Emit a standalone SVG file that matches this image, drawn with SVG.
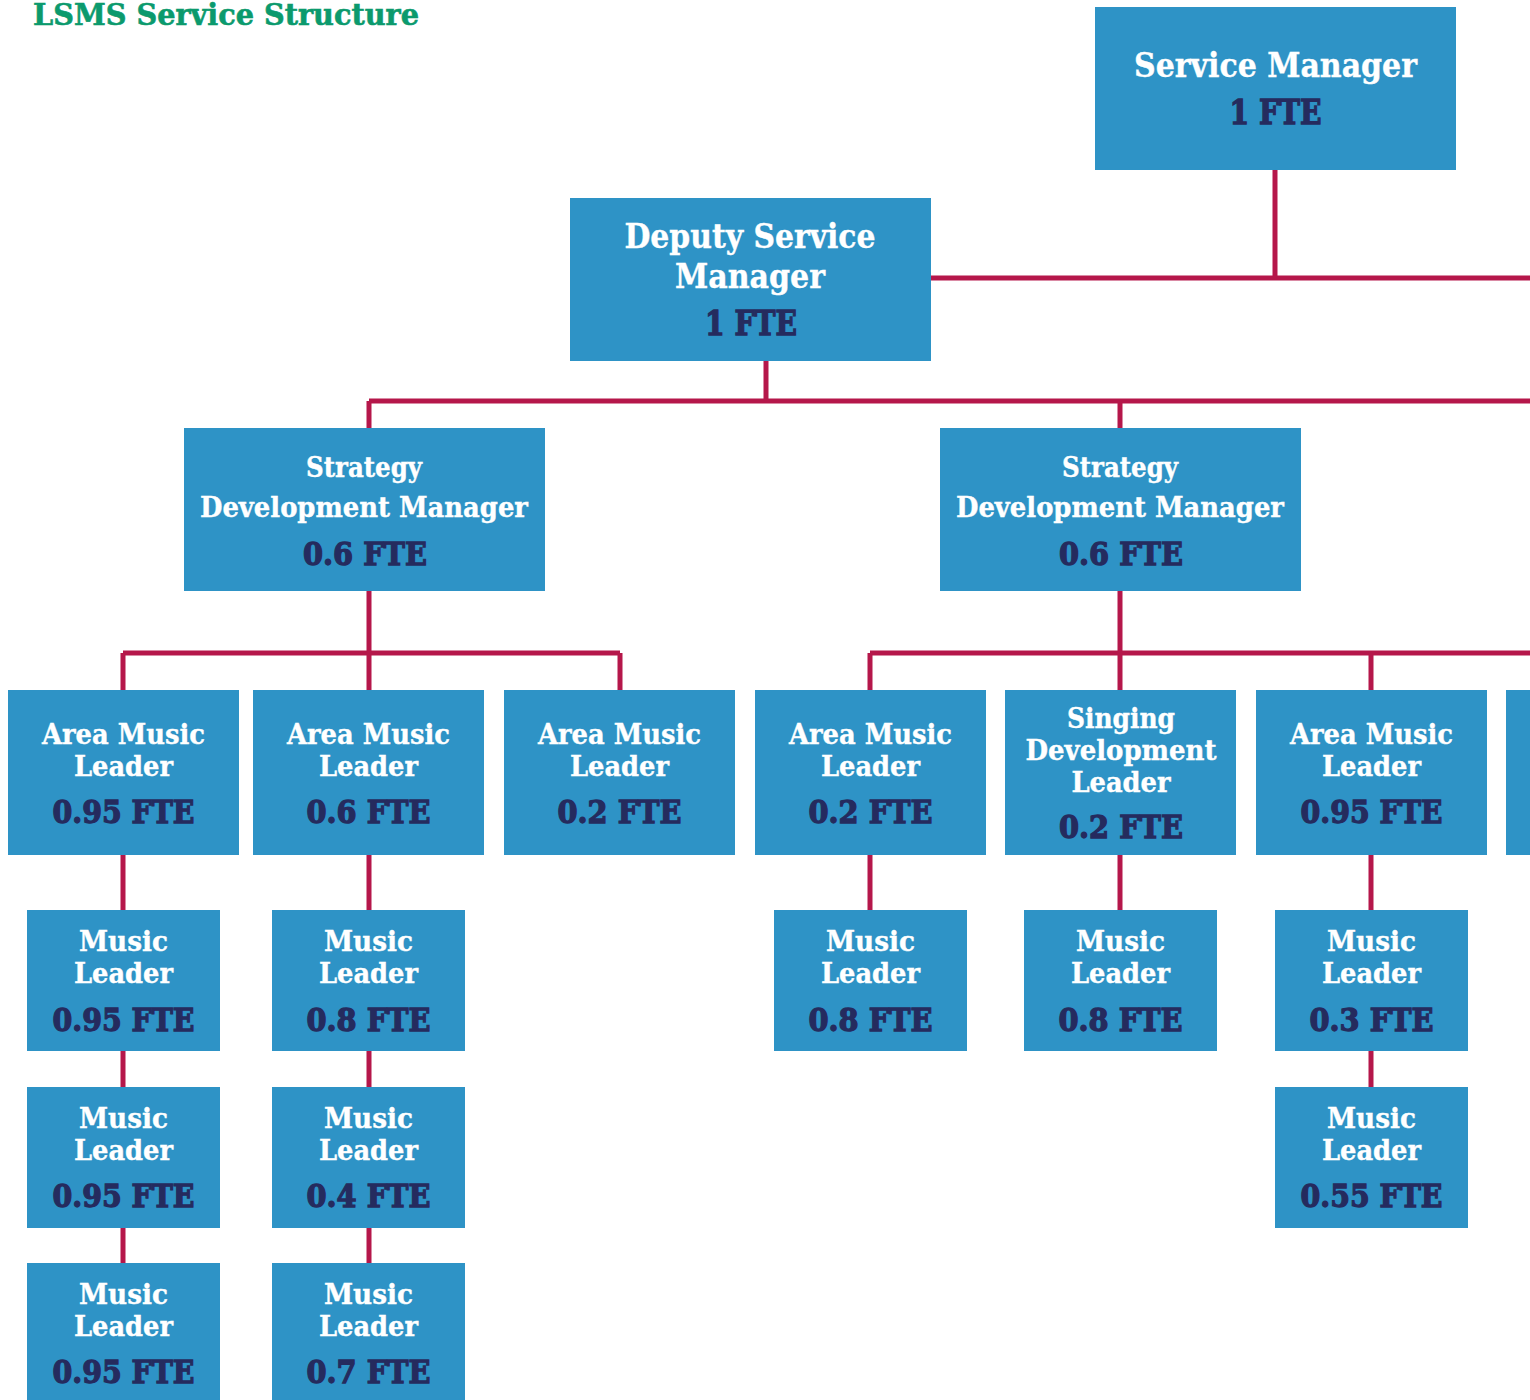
<svg xmlns="http://www.w3.org/2000/svg" width="1530" height="1400" viewBox="0 0 1530 1400">
<style>
.box{fill:#2E93C6}
.t{font-family:"DejaVu Serif","Liberation Serif",serif;font-weight:bold;fill:#ffffff;text-anchor:middle;stroke:#ffffff;stroke-width:0.4}
.f{font-family:"DejaVu Serif","Liberation Serif",serif;font-weight:bold;fill:#252B5E;text-anchor:middle;stroke:#252B5E;stroke-width:1.3}
.title{font-family:"DejaVu Serif","Liberation Serif",serif;font-weight:bold;font-size:29px;fill:#0B9A6D;stroke:#0B9A6D;stroke-width:0.6}
.s28{font-size:27.5px}
.s31{font-size:31px}
.s33{font-size:33px}
.ln{stroke:#B5174A;stroke-width:5;fill:none}
</style>
<rect width="1530" height="1400" fill="#ffffff"/>
<text class="title" x="33" y="25" textLength="386" lengthAdjust="spacingAndGlyphs">LSMS Service Structure</text>
<g id="connectors">
<path class="ln" d="M1275 170V278M931 278H1530"/>
<path class="ln" d="M766 361V401M369 401H1530M369 401V428M1120 401V428"/>
<path class="ln" d="M369 591V653M123 653H620M123 653V690M369 653V690M620 653V690"/>
<path class="ln" d="M1120 591V653M870 653H1530M870 653V690M1120 653V690M1371 653V690"/>
<path class="ln" d="M123 855V1263M369 855V1263M870 855V910M1120 855V910M1371 855V1087"/>
</g>
<g id="service-manager">
<rect class="box" x="1095" y="7" width="361" height="163"/>
<text class="t s33" x="1275.5" y="77" textLength="283" lengthAdjust="spacingAndGlyphs">Service Manager</text>
<text class="f s33" x="1275.5" y="124" textLength="92" lengthAdjust="spacingAndGlyphs">1 FTE</text>
</g>
<g id="deputy">
<rect class="box" x="570" y="198" width="361" height="163"/>
<text class="t s33" x="750" y="248" textLength="251" lengthAdjust="spacingAndGlyphs">Deputy Service</text>
<text class="t s33" x="750" y="288" textLength="150" lengthAdjust="spacingAndGlyphs">Manager</text>
<text class="f s33" x="751" y="335" textLength="92" lengthAdjust="spacingAndGlyphs">1 FTE</text>
</g>
<g id="sdm1">
<rect class="box" x="184" y="428" width="361" height="163"/>
<text class="t s28" x="364" y="477" textLength="116" lengthAdjust="spacingAndGlyphs">Strategy</text>
<text class="t s28" x="364" y="517" textLength="328" lengthAdjust="spacingAndGlyphs">Development Manager</text>
<text class="f s31" x="365" y="565" textLength="124" lengthAdjust="spacingAndGlyphs">0.6 FTE</text>
</g>
<g id="sdm2">
<rect class="box" x="940" y="428" width="361" height="163"/>
<text class="t s28" x="1120" y="477" textLength="116" lengthAdjust="spacingAndGlyphs">Strategy</text>
<text class="t s28" x="1120" y="517" textLength="328" lengthAdjust="spacingAndGlyphs">Development Manager</text>
<text class="f s31" x="1121" y="565" textLength="124" lengthAdjust="spacingAndGlyphs">0.6 FTE</text>
</g>
<g id="aml1">
<rect class="box" x="8" y="690" width="231" height="165"/>
<text class="t s28" x="123.5" y="744" textLength="163" lengthAdjust="spacingAndGlyphs">Area Music</text>
<text class="t s28" x="123.5" y="776" textLength="99" lengthAdjust="spacingAndGlyphs">Leader</text>
<text class="f s31" x="123.5" y="823" textLength="142" lengthAdjust="spacingAndGlyphs">0.95 FTE</text>
</g>
<g id="aml2">
<rect class="box" x="253" y="690" width="231" height="165"/>
<text class="t s28" x="368.5" y="744" textLength="163" lengthAdjust="spacingAndGlyphs">Area Music</text>
<text class="t s28" x="368.5" y="776" textLength="99" lengthAdjust="spacingAndGlyphs">Leader</text>
<text class="f s31" x="368.5" y="823" textLength="124" lengthAdjust="spacingAndGlyphs">0.6 FTE</text>
</g>
<g id="aml3">
<rect class="box" x="504" y="690" width="231" height="165"/>
<text class="t s28" x="619.5" y="744" textLength="163" lengthAdjust="spacingAndGlyphs">Area Music</text>
<text class="t s28" x="619.5" y="776" textLength="99" lengthAdjust="spacingAndGlyphs">Leader</text>
<text class="f s31" x="619.5" y="823" textLength="124" lengthAdjust="spacingAndGlyphs">0.2 FTE</text>
</g>
<g id="aml4">
<rect class="box" x="755" y="690" width="231" height="165"/>
<text class="t s28" x="870.5" y="744" textLength="163" lengthAdjust="spacingAndGlyphs">Area Music</text>
<text class="t s28" x="870.5" y="776" textLength="99" lengthAdjust="spacingAndGlyphs">Leader</text>
<text class="f s31" x="870.5" y="823" textLength="124" lengthAdjust="spacingAndGlyphs">0.2 FTE</text>
</g>
<g id="sdl">
<rect class="box" x="1005" y="690" width="231" height="165"/>
<text class="t s28" x="1121" y="728" textLength="108" lengthAdjust="spacingAndGlyphs">Singing</text>
<text class="t s28" x="1121" y="760" textLength="191" lengthAdjust="spacingAndGlyphs">Development</text>
<text class="t s28" x="1121" y="792" textLength="99" lengthAdjust="spacingAndGlyphs">Leader</text>
<text class="f s31" x="1121" y="838" textLength="124" lengthAdjust="spacingAndGlyphs">0.2 FTE</text>
</g>
<g id="aml5">
<rect class="box" x="1256" y="690" width="231" height="165"/>
<text class="t s28" x="1371.5" y="744" textLength="163" lengthAdjust="spacingAndGlyphs">Area Music</text>
<text class="t s28" x="1371.5" y="776" textLength="99" lengthAdjust="spacingAndGlyphs">Leader</text>
<text class="f s31" x="1371.5" y="823" textLength="142" lengthAdjust="spacingAndGlyphs">0.95 FTE</text>
</g>
<g id="partial">
<rect class="box" x="1506" y="690" width="40" height="165"/>
</g>
<g id="ml1a">
<rect class="box" x="27" y="910" width="193" height="141"/>
<text class="t s28" x="123.5" y="951" textLength="89" lengthAdjust="spacingAndGlyphs">Music</text>
<text class="t s28" x="123.5" y="983" textLength="99" lengthAdjust="spacingAndGlyphs">Leader</text>
<text class="f s31" x="123.5" y="1031" textLength="142" lengthAdjust="spacingAndGlyphs">0.95 FTE</text>
</g>
<g id="ml1b">
<rect class="box" x="27" y="1087" width="193" height="141"/>
<text class="t s28" x="123.5" y="1128" textLength="89" lengthAdjust="spacingAndGlyphs">Music</text>
<text class="t s28" x="123.5" y="1160" textLength="99" lengthAdjust="spacingAndGlyphs">Leader</text>
<text class="f s31" x="123.5" y="1207" textLength="142" lengthAdjust="spacingAndGlyphs">0.95 FTE</text>
</g>
<g id="ml1c">
<rect class="box" x="27" y="1263" width="193" height="141"/>
<text class="t s28" x="123.5" y="1304" textLength="89" lengthAdjust="spacingAndGlyphs">Music</text>
<text class="t s28" x="123.5" y="1336" textLength="99" lengthAdjust="spacingAndGlyphs">Leader</text>
<text class="f s31" x="123.5" y="1383" textLength="142" lengthAdjust="spacingAndGlyphs">0.95 FTE</text>
</g>
<g id="ml2a">
<rect class="box" x="272" y="910" width="193" height="141"/>
<text class="t s28" x="368.5" y="951" textLength="89" lengthAdjust="spacingAndGlyphs">Music</text>
<text class="t s28" x="368.5" y="983" textLength="99" lengthAdjust="spacingAndGlyphs">Leader</text>
<text class="f s31" x="368.5" y="1031" textLength="124" lengthAdjust="spacingAndGlyphs">0.8 FTE</text>
</g>
<g id="ml2b">
<rect class="box" x="272" y="1087" width="193" height="141"/>
<text class="t s28" x="368.5" y="1128" textLength="89" lengthAdjust="spacingAndGlyphs">Music</text>
<text class="t s28" x="368.5" y="1160" textLength="99" lengthAdjust="spacingAndGlyphs">Leader</text>
<text class="f s31" x="368.5" y="1207" textLength="124" lengthAdjust="spacingAndGlyphs">0.4 FTE</text>
</g>
<g id="ml2c">
<rect class="box" x="272" y="1263" width="193" height="141"/>
<text class="t s28" x="368.5" y="1304" textLength="89" lengthAdjust="spacingAndGlyphs">Music</text>
<text class="t s28" x="368.5" y="1336" textLength="99" lengthAdjust="spacingAndGlyphs">Leader</text>
<text class="f s31" x="368.5" y="1383" textLength="124" lengthAdjust="spacingAndGlyphs">0.7 FTE</text>
</g>
<g id="ml4a">
<rect class="box" x="774" y="910" width="193" height="141"/>
<text class="t s28" x="870.5" y="951" textLength="89" lengthAdjust="spacingAndGlyphs">Music</text>
<text class="t s28" x="870.5" y="983" textLength="99" lengthAdjust="spacingAndGlyphs">Leader</text>
<text class="f s31" x="870.5" y="1031" textLength="124" lengthAdjust="spacingAndGlyphs">0.8 FTE</text>
</g>
<g id="ml5a">
<rect class="box" x="1024" y="910" width="193" height="141"/>
<text class="t s28" x="1120.5" y="951" textLength="89" lengthAdjust="spacingAndGlyphs">Music</text>
<text class="t s28" x="1120.5" y="983" textLength="99" lengthAdjust="spacingAndGlyphs">Leader</text>
<text class="f s31" x="1120.5" y="1031" textLength="124" lengthAdjust="spacingAndGlyphs">0.8 FTE</text>
</g>
<g id="ml6a">
<rect class="box" x="1275" y="910" width="193" height="141"/>
<text class="t s28" x="1371.5" y="951" textLength="89" lengthAdjust="spacingAndGlyphs">Music</text>
<text class="t s28" x="1371.5" y="983" textLength="99" lengthAdjust="spacingAndGlyphs">Leader</text>
<text class="f s31" x="1371.5" y="1031" textLength="124" lengthAdjust="spacingAndGlyphs">0.3 FTE</text>
</g>
<g id="ml6b">
<rect class="box" x="1275" y="1087" width="193" height="141"/>
<text class="t s28" x="1371.5" y="1128" textLength="89" lengthAdjust="spacingAndGlyphs">Music</text>
<text class="t s28" x="1371.5" y="1160" textLength="99" lengthAdjust="spacingAndGlyphs">Leader</text>
<text class="f s31" x="1371.5" y="1207" textLength="142" lengthAdjust="spacingAndGlyphs">0.55 FTE</text>
</g>
</svg>
